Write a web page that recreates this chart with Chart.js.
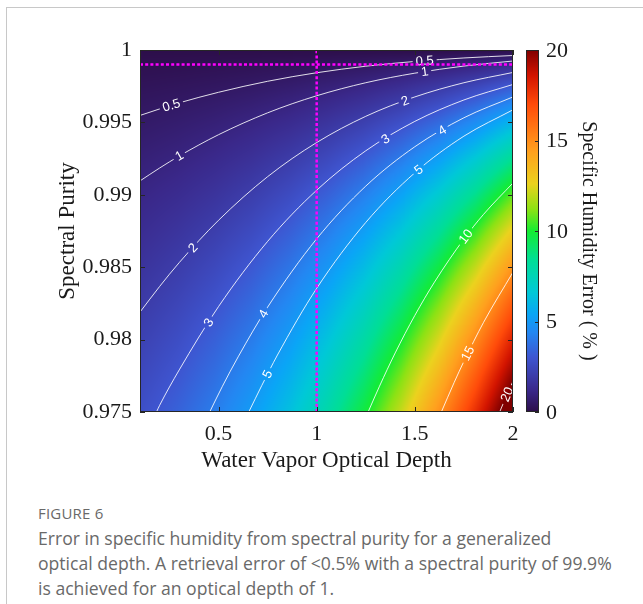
<!DOCTYPE html>
<html>
<head>
<meta charset="utf-8">
<script src="https://cdn.jsdelivr.net/npm/chart.js@4.4.1/dist/chart.umd.min.js"></script>
<style>
html, body { margin: 0; padding: 0; background: #fff; }
body { width: 643px; height: 604px; position: relative; overflow: hidden; }
#frame { position: absolute; left: 6px; top: 7px; right: 0; bottom: 0;
  border-top: 1px solid #c8c8c8; border-left: 1px solid #c8c8c8; }
#chartBox { position: absolute; left: 0; top: 0; width: 643px; height: 480px; }
#cap { position: absolute; left: 38px; top: 503px; width: 604px;
  font-family: "Open Sans", "Noto Sans", sans-serif; color: #696969; }
#cap .fig { font-size: 15px; letter-spacing: 0.2px; margin-bottom: 3px; }
#cap .txt { font-size: 17.6px; line-height: 25px; }
</style>
</head>
<body>
<div id="frame"></div>
<div id="chartBox"><canvas id="plot" width="643" height="480"></canvas></div>
<div id="cap">
  <div class="fig">FIGURE 6</div>
  <div class="txt">Error in specific humidity from spectral purity for a generalized<br>optical depth. A retrieval error of &lt;0.5% with a spectral purity of 99.9%<br>is achieved for an optical depth of 1.</div>
</div>
<script>
// axes
const xTicks = [0.5, 1, 1.5, 2];
const xTickLabels = ['0.5', '1', '1.5', '2'];
const yTicks = [0.975, 0.98, 0.985, 0.99, 0.995, 1];
const yTickLabels = ['0.975', '0.98', '0.985', '0.99', '0.995', '1'];
const cbTicks = [0, 5, 10, 15, 20];
const cbMax = 20;

// error field (%), rows follow purityGrid
const tauGrid = [0.10, 0.29, 0.48, 0.67, 0.86, 1.05, 1.24, 1.43, 1.62, 1.81, 2.00];
const purityGrid = [1, 0.9975, 0.995, 0.9925, 0.99, 0.9875, 0.985, 0.9825, 0.98, 0.9775, 0.975];
const errGrid = [
  [0, 0, 0, 0, 0, 0, 0, 0, 0, 0, 0],
  [0.28, 0.34, 0.42, 0.52, 0.66, 0.85, 1.09, 1.41, 1.84, 2.40, 3.14],
  [0.55, 0.68, 0.84, 1.05, 1.32, 1.68, 2.15, 2.77, 3.57, 4.61, 5.94],
  [0.83, 1.01, 1.25, 1.56, 1.97, 2.49, 3.18, 4.07, 5.21, 6.66, 8.45],
  [1.11, 1.35, 1.67, 2.08, 2.61, 3.30, 4.19, 5.33, 6.77, 8.56, 10.73],
  [1.38, 1.69, 2.08, 2.58, 3.24, 4.09, 5.17, 6.54, 8.26, 10.34, 12.82],
  [1.66, 2.02, 2.49, 3.09, 3.87, 4.86, 6.13, 7.72, 9.67, 12.02, 14.75],
  [1.93, 2.36, 2.90, 3.59, 4.49, 5.63, 7.06, 8.85, 11.03, 13.60, 16.54],
  [2.21, 2.69, 3.31, 4.09, 5.10, 6.38, 7.98, 9.95, 12.32, 15.09, 18.21],
  [2.49, 3.02, 3.71, 4.59, 5.71, 7.12, 8.87, 11.02, 13.57, 16.51, 19.78],
  [2.76, 3.36, 4.12, 5.08, 6.31, 7.85, 9.75, 12.05, 14.76, 17.85, 21.25]
];

// contour lines
const contourLevels = ['0.5', '1', '2', '3', '4', '5', '10', '15', '20'];
const contourTau = [
  [0.1, 0.2, 0.3, 0.5, 0.75, 1.0, 1.25, 1.5, 1.75, 2.0],
  [0.1, 0.2, 0.3, 0.5, 0.75, 1.0, 1.25, 1.5, 1.75, 2.0],
  [0.1, 0.2, 0.3, 0.5, 0.75, 1.0, 1.25, 1.5, 1.75, 2.0],
  [0.184, 0.2, 0.3, 0.5, 0.75, 1.0, 1.25, 1.5, 1.75, 2.0],
  [0.455, 0.52, 0.6, 0.75, 1.0, 1.25, 1.5, 1.75, 2.0],
  [0.654, 0.72, 0.8, 1.0, 1.25, 1.5, 1.75, 2.0],
  [1.262, 1.32, 1.4, 1.5, 1.6, 1.75, 1.85, 2.0],
  [1.635, 1.7, 1.75, 1.85, 2.0],
  [1.932, 1.965, 2.0]
];
const contourPurity = [
  [0.99548, 0.99593, 0.99635, 0.99708, 0.99784, 0.99843, 0.99888, 0.99921, 0.99945, 0.99962],
  [0.99096, 0.99185, 0.99268, 0.99415, 0.99566, 0.99684, 0.99774, 0.99840, 0.99889, 0.99924],
  [0.98190, 0.98367, 0.98532, 0.98824, 0.99125, 0.99361, 0.99542, 0.99676, 0.99774, 0.99845],
  [0.975, 0.97546, 0.97791, 0.98228, 0.98678, 0.99032, 0.99304, 0.99507, 0.99655, 0.99762],
  [0.975, 0.97678, 0.97881, 0.98224, 0.98696, 0.99060, 0.99332, 0.99532, 0.99676],
  [0.975, 0.97682, 0.97893, 0.98354, 0.98809, 0.99152, 0.99405, 0.99587],
  [0.975, 0.97678, 0.97908, 0.98167, 0.98397, 0.98695, 0.98865, 0.99082],
  [0.975, 0.97703, 0.97850, 0.98119, 0.98466],
  [0.975, 0.97606, 0.97713]
];
// where the inline labels sit
const labelLevel = ['0.5', '0.5', '1', '1', '2', '2', '3', '3', '4', '4', '5', '5', '10', '15', '20'];
const labelTau = [0.26, 1.55, 0.30, 1.55, 0.37, 1.45, 0.45, 1.35, 0.73, 1.64, 0.75, 1.52, 1.76, 1.77, 1.97];

// the magenta markers
const markerTau = 1;
const markerPurity = 0.999;

const SERIF = '"Liberation Serif", "Times New Roman", serif';

// colormap stops (dark purple -> blue -> cyan -> green -> yellow -> red)
const cmapStops = [
  [0.00, [45, 14, 74]],
  [0.06, [58, 40, 138]],
  [0.15, [62, 85, 208]],
  [0.22, [35, 135, 242]],
  [0.27, [10, 165, 246]],
  [0.33, [0, 200, 215]],
  [0.42, [0, 222, 150]],
  [0.50, [20, 236, 50]],
  [0.56, [140, 226, 20]],
  [0.63, [235, 210, 30]],
  [0.72, [255, 160, 30]],
  [0.85, [255, 75, 10]],
  [0.93, [210, 20, 0]],
  [1.00, [128, 0, 0]]
];

function colormap(f) {
  f = Math.max(0, Math.min(1, f));
  for (let i = 0; i < cmapStops.length - 1; i++) {
    const a = cmapStops[i], b = cmapStops[i + 1];
    if (f <= b[0]) {
      const t = (f - a[0]) / (b[0] - a[0]);
      return [0, 1, 2].map(c => Math.round(a[1][c] + (b[1][c] - a[1][c]) * t));
    }
  }
  return cmapStops[cmapStops.length - 1][1];
}

// index + fraction of v inside arr (asc or desc), clamped
function locate(arr, v) {
  for (let i = 0; i < arr.length - 1; i++) {
    const f = (v - arr[i]) / (arr[i + 1] - arr[i]);
    if (f >= 0 && f <= 1) return [i, f];
  }
  const asc = arr[arr.length - 1] > arr[0];
  if ((v < arr[0]) === asc) return [0, 0];
  return [arr.length - 2, 1];
}

function sampleGrid(t, p) {
  const [i, fx] = locate(tauGrid, t);
  const [j, fy] = locate(purityGrid, p);
  const a = errGrid[j][i], b = errGrid[j][i + 1];
  const c = errGrid[j + 1][i], d = errGrid[j + 1][i + 1];
  return (a * (1 - fx) + b * fx) * (1 - fy) + (c * (1 - fx) + d * fx) * fy;
}

let heat = null;
function buildHeat(chart) {
  const ca = chart.chartArea;
  const w = Math.round(ca.right - ca.left), h = Math.round(ca.bottom - ca.top);
  const cv = document.createElement('canvas');
  cv.width = w; cv.height = h;
  const g = cv.getContext('2d');
  const img = g.createImageData(w, h);
  const xs = chart.scales.x, ys = chart.scales.y;
  for (let j = 0; j < h; j++) {
    const p = ys.getValueForPixel(ca.top + j + 0.5);
    for (let i = 0; i < w; i++) {
      const t = xs.getValueForPixel(ca.left + i + 0.5);
      const col = colormap(sampleGrid(t, p) / cbMax);
      const k = (j * w + i) * 4;
      img.data[k] = col[0]; img.data[k + 1] = col[1]; img.data[k + 2] = col[2]; img.data[k + 3] = 255;
    }
  }
  g.putImageData(img, 0, 0);
  return { cv, left: Math.round(ca.left), top: Math.round(ca.top), w, h };
}

function purityOnContour(k, t) {
  const [i, f] = locate(contourTau[k], t);
  const p = contourPurity[k];
  return p[i] + (p[i + 1] - p[i]) * f;
}

function drawLabels(chart) {
  const ctx = chart.ctx, xs = chart.scales.x, ys = chart.scales.y;
  ctx.save();
  ctx.font = '13px "Liberation Sans", Arial, sans-serif';
  labelLevel.forEach((lv, n) => {
    const k = contourLevels.indexOf(lv);
    const t = labelTau[n];
    const px = xs.getPixelForValue(t), py = ys.getPixelForValue(purityOnContour(k, t));
    const d = 0.02;
    const x1 = xs.getPixelForValue(t - d), y1 = ys.getPixelForValue(purityOnContour(k, t - d));
    const x2 = xs.getPixelForValue(t + d), y2 = ys.getPixelForValue(purityOnContour(k, t + d));
    const ang = Math.atan2(y2 - y1, x2 - x1);
    const tw = ctx.measureText(lv).width;
    ctx.save();
    ctx.translate(px, py); ctx.rotate(ang);
    ctx.beginPath(); ctx.rect(-tw / 2 - 3, -6, tw + 6, 12); ctx.clip();
    ctx.rotate(-ang); ctx.translate(-px, -py);
    ctx.drawImage(heat.cv, heat.left, heat.top);
    ctx.translate(px, py); ctx.rotate(ang);
    ctx.fillStyle = '#ffffff';
    ctx.textAlign = 'center'; ctx.textBaseline = 'middle';
    ctx.fillText(lv, 0, 0.5);
    ctx.restore();
  });
  ctx.restore();
}

const heatPlugin = {
  id: 'heat',
  beforeDatasetsDraw(chart) {
    if (!heat) heat = buildHeat(chart);
    chart.ctx.drawImage(heat.cv, heat.left, heat.top);
  },
  afterDatasetDraw(chart, args) {
    if (args.index === 0) drawLabels(chart);
  },
  afterDraw(chart) {
    const ctx = chart.ctx, ca = chart.chartArea;
    const xs = chart.scales.x, ys = chart.scales.y;
    ctx.save();
    // box and inward ticks
    ctx.strokeStyle = '#262626'; ctx.lineWidth = 1;
    ctx.strokeRect(Math.round(ca.left) + 0.5, Math.round(ca.top) + 0.5,
      Math.round(ca.right - ca.left) - 1, Math.round(ca.bottom - ca.top) - 1);
    ctx.beginPath();
    xTicks.forEach(v => {
      const px = Math.round(xs.getPixelForValue(v)) + 0.5;
      ctx.moveTo(px, ca.bottom); ctx.lineTo(px, ca.bottom - 5);
      ctx.moveTo(px, ca.top); ctx.lineTo(px, ca.top + 5);
    });
    yTicks.forEach(v => {
      const py = Math.round(ys.getPixelForValue(v)) + 0.5;
      ctx.moveTo(ca.left, py); ctx.lineTo(ca.left + 5, py);
      ctx.moveTo(ca.right, py); ctx.lineTo(ca.right - 5, py);
    });
    ctx.stroke();

    // colorbar
    const bx = 526, bw = 13, top = Math.round(ca.top), bot = Math.round(ca.bottom);
    for (let y = top; y < bot; y++) {
      const f = (bot - (y + 0.5)) / (bot - top);
      const c = colormap(f);
      ctx.fillStyle = 'rgb(' + c[0] + ',' + c[1] + ',' + c[2] + ')';
      ctx.fillRect(bx, y, bw, 1);
    }
    ctx.strokeStyle = '#262626';
    ctx.strokeRect(bx + 0.5, top + 0.5, bw - 1, bot - top - 1);
    ctx.fillStyle = '#1a1a1a';
    ctx.font = '22px ' + SERIF;
    ctx.textAlign = 'left'; ctx.textBaseline = 'middle';
    ctx.beginPath();
    cbTicks.forEach(v => {
      const py = bot - v / cbMax * (bot - top);
      ctx.moveTo(bx + bw - 4, Math.round(py) + 0.5); ctx.lineTo(bx + bw, Math.round(py) + 0.5);
      ctx.fillText(String(v), 546, py + 1);
    });
    ctx.stroke();
    ctx.translate(588, 241);
    ctx.rotate(Math.PI / 2);
    ctx.textAlign = 'center';
    ctx.font = '20px ' + SERIF;
    ctx.fillText('Specific Humidity Error ( % )', 0, 0);
    ctx.restore();
  }
};

const datasets = contourLevels.map((lv, k) => ({
  label: 'contour ' + lv,
  data: contourTau[k].map((t, i) => ({ x: t, y: contourPurity[k][i] })),
  showLine: true,
  pointRadius: 0,
  borderColor: 'rgba(255,255,255,0.85)',
  borderWidth: 1,
  cubicInterpolationMode: 'monotone',
  order: 1
}));
datasets.push({
  label: 'tau marker',
  data: [{ x: markerTau, y: 0.975 }, { x: markerTau, y: 1 }],
  showLine: true, pointRadius: 0,
  borderColor: '#ff00ff', borderWidth: 2.5, borderDash: [3, 2.2],
  order: 0
});
datasets.push({
  label: 'purity marker',
  data: [{ x: 0.1, y: markerPurity }, { x: 2, y: markerPurity }],
  showLine: true, pointRadius: 0,
  borderColor: '#ff00ff', borderWidth: 2.5, borderDash: [3, 2.2],
  order: 0
});

Chart.defaults.font.family = SERIF;
Chart.defaults.color = '#1a1a1a';

new Chart(document.getElementById('plot'), {
  type: 'scatter',
  data: { datasets },
  options: {
    responsive: false,
    animation: false,
    events: [],
    layout: { padding: { top: 50, right: 130, bottom: 0, left: 0 } },
    plugins: { legend: { display: false }, tooltip: { enabled: false } },
    scales: {
      x: {
        type: 'linear', min: 0.1, max: 2,
        afterBuildTicks: s => { s.ticks = xTicks.map(v => ({ value: v })); },
        afterFit: s => { s.height = 68; },
        grid: { display: false, drawTicks: false },
        border: { display: false },
        ticks: { autoSkip: false, maxRotation: 0, padding: 9, font: { size: 22 },
          callback: (v, i) => xTickLabels[i] },
        title: { display: true, text: 'Water Vapor Optical Depth', font: { size: 23 },
          padding: { top: 0, bottom: 5 } }
      },
      y: {
        type: 'linear', min: 0.975, max: 1,
        afterBuildTicks: s => { s.ticks = yTicks.map(v => ({ value: v })); },
        afterFit: s => { s.width = 140; },
        grid: { display: false, drawTicks: false },
        border: { display: false },
        ticks: { autoSkip: false, padding: 8, font: { size: 22 },
          callback: (v, i) => yTickLabels[i] },
        title: { display: true, text: 'Spectral Purity', font: { size: 23 },
          padding: { top: 54, bottom: 0 } }
      }
    }
  },
  plugins: [heatPlugin]
});
</script>
</body>
</html>
